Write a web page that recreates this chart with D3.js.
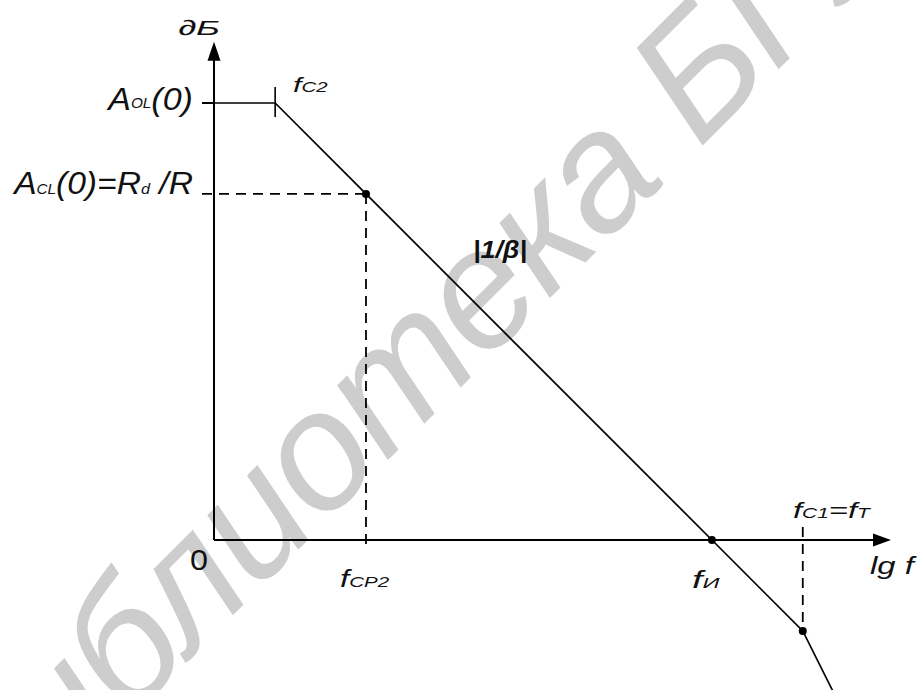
<!DOCTYPE html>
<html><head><meta charset="utf-8">
<script src="https://cdn.jsdelivr.net/npm/d3@7"></script>
<style>html,body{margin:0;padding:0;background:#fff}</style>
</head><body>
<svg id="chart" width="919" height="690"></svg>
<script>
// asymptotic Bode curve (lg f in arbitrary units, gain in dB units)
const lgF    = [0, 14, 34.8, 114, 134.8, 141.6];
const gainDb = [100, 100, 79.2, 0, -20.8, -34.4];
const dotIdx = [2, 3, 4];            // marked points: A_CL, f_И, f_C1
const fC2 = 14, fCP2 = 34.8, fI = 114, fC1 = 134.8;
const aOL = 100, aCL = 79.2;
const xMax = 155, yMax = 114;

const svg = d3.select("#chart");
const x = d3.scaleLinear().domain([0, xMax]).range([214, 891]);
const y = d3.scaleLinear().domain([0, aOL]).range([540, 103]);
const FONT = "'Liberation Sans', Arial, sans-serif";
const INK = "#000";

// watermark (anchored so the capital Б lands where the reference has it)
const wmPre = "библиотека ";
const wm = svg.append("text")
  .attr("transform", "translate(699,149) rotate(-45)")
  .attr("x", 0)
  .attr("font-family", FONT).attr("font-style", "italic")
  .attr("font-size", 168).attr("letter-spacing", -2).attr("fill", "#cdcdcd")
  .text(wmPre + "БГУИР");
wm.attr("x", -wm.node().getStartPositionOfChar(wmPre.length).x);

// axes
const x0 = x(0), y0 = y(0);
svg.append("line").attr("x1", x0).attr("y1", y0).attr("x2", x0).attr("y2", y(yMax) + 16)
  .attr("stroke", INK).attr("stroke-width", 2);
svg.append("path").attr("d", `M${x0},${y(yMax)} L${x0-6.5},${y(yMax)+19} L${x0+6.5},${y(yMax)+19} Z`).attr("fill", INK);
svg.append("line").attr("x1", x0).attr("y1", y0).attr("x2", x(xMax) - 14).attr("y2", y0)
  .attr("stroke", INK).attr("stroke-width", 2);
svg.append("path").attr("d", `M${x(xMax)},${y0} L${x(xMax)-18},${y0-6.5} L${x(xMax)-18},${y0+6.5} Z`).attr("fill", INK);

// y tick at A_OL and f_C2 tick
svg.append("line").attr("x1", x0 - 12).attr("x2", x0).attr("y1", y(aOL)).attr("y2", y(aOL))
  .attr("stroke", INK).attr("stroke-width", 2);
svg.append("line").attr("x1", x(fC2)).attr("x2", x(fC2)).attr("y1", y(aOL) - 16).attr("y2", y(aOL) + 14)
  .attr("stroke", INK).attr("stroke-width", 1.6);

// dashed guides
const dash = "10,7";
svg.append("line").attr("x1", x0 - 12).attr("x2", x(fCP2)).attr("y1", y(aCL)).attr("y2", y(aCL))
  .attr("stroke", INK).attr("stroke-width", 1.8).attr("stroke-dasharray", dash);
svg.append("line").attr("x1", x(fCP2)).attr("x2", x(fCP2)).attr("y1", y(aCL)).attr("y2", y0 + 9)
  .attr("stroke", INK).attr("stroke-width", 1.8).attr("stroke-dasharray", dash);
svg.append("line").attr("x1", x(fC1)).attr("x2", x(fC1)).attr("y1", y0 - 13).attr("y2", y(gainDb[4]))
  .attr("stroke", INK).attr("stroke-width", 1.8).attr("stroke-dasharray", dash);

// curve
const pts = lgF.map((f, i) => [f, gainDb[i]]);
svg.append("path")
  .attr("d", d3.line().x(d => x(d[0])).y(d => y(d[1]))(pts))
  .attr("fill", "none").attr("stroke", INK).attr("stroke-width", 1.7);
svg.selectAll("circle.pt").data(dotIdx).join("circle").attr("class", "pt")
  .attr("cx", i => x(lgF[i])).attr("cy", i => y(gainDb[i])).attr("r", 4).attr("fill", INK);

// labels: fitted horizontally between left/right pixel edges
function label(left, right, base, parts, opts = {}) {
  const g = svg.append("g");
  const t = g.append("text").attr("x", 0).attr("y", 0)
    .attr("font-family", FONT).attr("font-style", opts.style || "italic")
    .attr("font-weight", opts.weight || "normal")
    .attr("font-size", opts.size || 24).attr("fill", "#111");
  let shift = 0;
  parts.forEach(p => {
    const s = t.append("tspan").text(p.t);
    if (p.size) s.attr("font-size", p.size);
    const want = p.dy || 0;
    if (want !== shift) { s.attr("dy", want - shift); shift = want; }
  });
  const bb = t.node().getBBox();
  const sx = (right - left) / bb.width;
  g.attr("transform", `translate(${left - bb.x * sx},${base}) scale(${sx},1)`);
  return g;
}
label(178, 220, 35, [{t: "∂Б"}], {size: 21});
label(106, 193, 110, [{t: "A"}, {t: "OL", size: 14, dy: -2}, {t: "(0)"}], {size: 31});
label(12, 193, 194, [{t: "A"}, {t: "CL", size: 14}, {t: "(0)=R"}, {t: "d", size: 15}, {t: " /R"}], {size: 31});
label(293, 328, 92, [{t: "f"}, {t: "C2", size: 14}], {size: 21});
label(340, 390, 587, [{t: "f"}, {t: "CP2", size: 15}], {size: 24});
label(692, 720, 588, [{t: "f"}, {t: "И", size: 15}], {size: 24});
label(793, 872, 518, [{t: "f"}, {t: "C1", size: 14}, {t: "=f"}, {t: "T", size: 14}], {size: 22});
label(870, 917, 574, [{t: "lg f"}], {size: 24});
label(190, 208, 570, [{t: "0"}], {size: 30, style: "normal"});
label(473, 527, 258, [{t: "|1/β|"}], {size: 24, weight: "bold"});
</script>
</body></html>
